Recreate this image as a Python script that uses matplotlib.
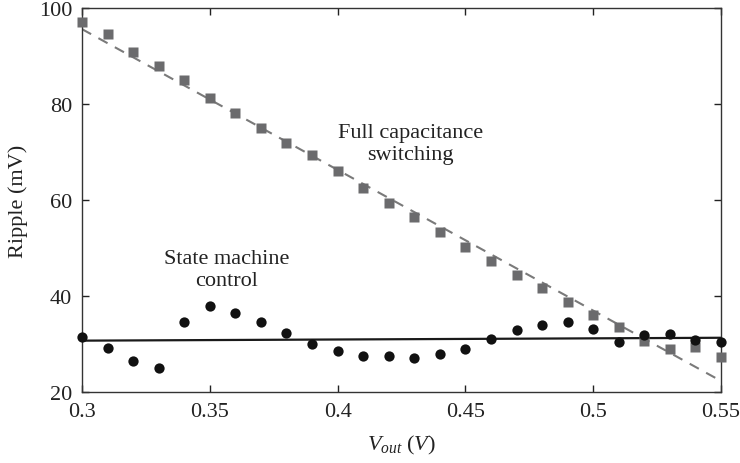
import numpy as np
import matplotlib
matplotlib.use("Agg")
import matplotlib.pyplot as plt

plt.rcParams['font.family'] = ['Liberation Serif', 'DejaVu Serif']
plt.rcParams['mathtext.fontset'] = 'custom'
plt.rcParams['mathtext.rm'] = 'Liberation Serif'
plt.rcParams['mathtext.it'] = 'Liberation Serif:italic'

# Output voltage sweep (V)
vout = [0.30, 0.31, 0.32, 0.33, 0.34, 0.35, 0.36, 0.37, 0.38, 0.39,
        0.40, 0.41, 0.42, 0.43, 0.44, 0.45, 0.46, 0.47, 0.48, 0.49,
        0.50, 0.51, 0.52, 0.53, 0.54, 0.55]

# Ripple with full capacitance switching (mV)
ripple_full = [97.1, 94.6, 90.9, 87.9, 84.9, 81.3, 78.1, 75.0, 71.8, 69.4,
               66.0, 62.5, 59.3, 56.5, 53.3, 50.3, 47.3, 44.4, 41.7, 38.7,
               36.0, 33.5, 30.6, 29.0, 29.4, 27.3]

# Ripple with state machine control (mV)
ripple_sm = [31.5, 29.2, 26.4, 24.9, 34.6, 38.0, 36.5, 34.6, 32.2, 30.1,
             28.5, 27.4, 27.4, 27.0, 27.9, 29.0, 31.0, 33.0, 34.0, 34.6,
             33.1, 30.4, 31.9, 32.1, 30.8, 30.4]

# Trend lines (endpoints, mV)
trend_x = [0.30, 0.55]
trend_full = [95.6, 22.3]
trend_sm = [30.7, 31.3]

xticks = [0.3, 0.35, 0.4, 0.45, 0.5, 0.55]
xtick_labels = ['0.3', '0.35', '0.4', '0.45', '0.5', '0.55']
yticks = [20, 40, 60, 80, 100]

fig = plt.figure(figsize=(7.4, 4.64), dpi=100)
ax = fig.add_axes([0.1108, 0.153, 0.8635, 0.8276])

ax.plot(trend_x, trend_full, linestyle=(0, (5, 4)), color='#7a7a7a', lw=1.5, zorder=2)
ax.plot(trend_x, trend_sm, color='#1a1a1a', lw=1.6, zorder=2)
ax.plot(vout, ripple_full, linestyle='none', marker='s', ms=6.6,
        color='#6b6b6d', mec='none', zorder=3, clip_on=False)
ax.plot(vout, ripple_sm, linestyle='none', marker='o', ms=7.4,
        color='#111111', mec='none', zorder=4, clip_on=False)

ax.set_xlim(0.3, 0.55)
ax.set_ylim(20, 100)
ax.set_xticks(xticks)
ax.set_xticklabels(xtick_labels)
ax.set_yticks(yticks)

ax.tick_params(direction='in', length=5, width=1, top=True, right=True,
               labelsize=16, colors='#222222', pad=7)
for s in ax.spines.values():
    s.set_linewidth(1.0)
    s.set_color('#333333')

ax.set_xlabel(r'$V_{out}\ (V)$', fontsize=16, color='#222222', labelpad=9)
ax.set_ylabel('Ripple (mV)', fontsize=16, color='#222222', labelpad=8)

ax.text(0.4285, 71.7, 'Full capacitance\nswitching', ha='center', va='center',
        fontsize=16, color='#222222', linespacing=1.2)
ax.text(0.3567, 45.6, 'State machine\ncontrol', ha='center', va='center',
        fontsize=16, color='#222222', linespacing=1.2)

fig.savefig('out.png', dpi=100)
